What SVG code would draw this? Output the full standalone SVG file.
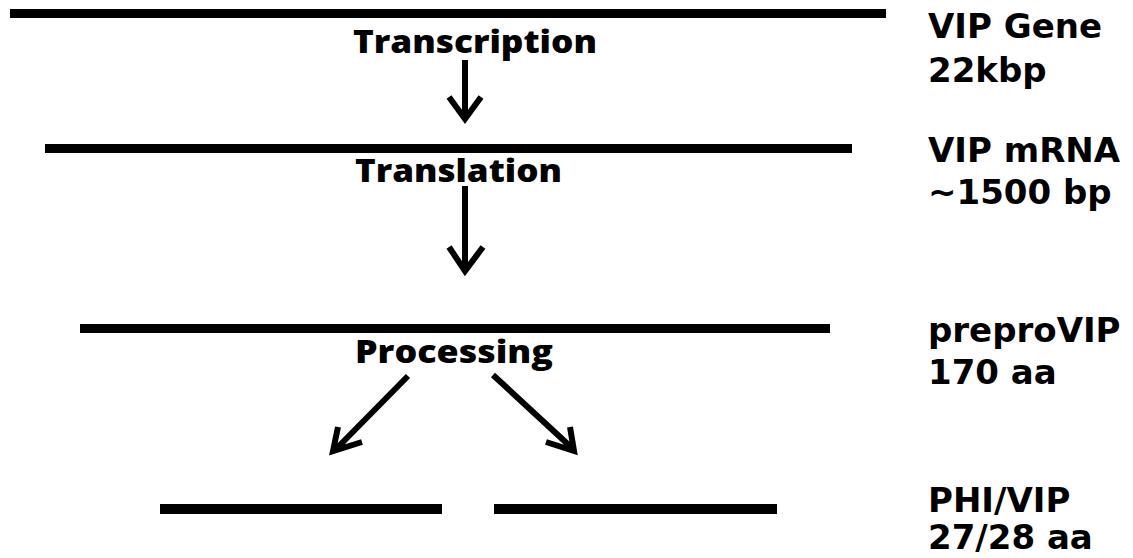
<svg xmlns="http://www.w3.org/2000/svg" width="1133" height="558" viewBox="0 0 1133 558">
<style>
.bar{fill:#000}
.step{font-family:"Open Sans","Liberation Sans",sans-serif;font-weight:800;font-size:31px;fill:#000}
.lab{font-family:"DejaVu Sans","Liberation Sans",sans-serif;font-weight:bold;font-size:34px;fill:#000}
.arr{fill:none;stroke:#000;stroke-width:6;stroke-linecap:butt;stroke-linejoin:miter;stroke-miterlimit:10}
</style>
<rect width="1133" height="558" fill="#fff"/>
<g id="gene"><rect class="bar" x="10" y="9" width="876" height="9"/><text class="lab" x="928" y="38">VIP Gene</text><text class="lab" x="928" y="82">22kbp</text></g>
<g id="mrna"><rect class="bar" x="45" y="144" width="807" height="9"/><text class="lab" x="928" y="162">VIP mRNA</text><text class="lab" x="928" y="204">~1500 bp</text></g>
<g id="prepro"><rect class="bar" x="80" y="324" width="750" height="9"/><text class="lab" x="928" y="342">preproVIP</text><text class="lab" x="928" y="384">170 aa</text></g>
<g id="phivip"><rect class="bar" x="160" y="504" width="282" height="10"/><rect class="bar" x="494" y="504" width="283" height="10"/><text class="lab" x="928" y="512">PHI/VIP</text><text class="lab" x="928" y="549">27/28 aa</text></g>
<g id="labels"><text class="step" x="353" y="53" textLength="244" lengthAdjust="spacingAndGlyphs">Transcription</text><text class="step" x="355" y="182" textLength="207" lengthAdjust="spacingAndGlyphs">Translation</text><text class="step" x="355" y="363" textLength="198" lengthAdjust="spacingAndGlyphs">Processing</text></g>
<g id="connectors">
<path class="arr" d="M465 60V116M449 97L465 119L481 97"/>
<path class="arr" d="M465 186V269M449 247L465 271L483 247"/>
<path class="arr" d="M408 376L337 448M338 427L333 451L362 442"/>
<path class="arr" d="M493 375L572 448M570 427L574 451L546 442"/>
</g>
</svg>
